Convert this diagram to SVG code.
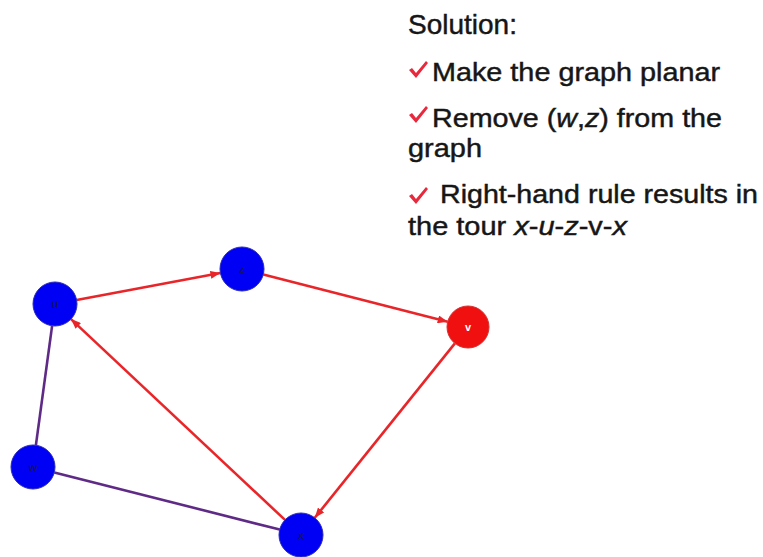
<svg xmlns="http://www.w3.org/2000/svg" width="763" height="557" viewBox="0 0 763 557">
  <style>
    .txt { font-family: "Liberation Sans", Arial, sans-serif; fill: #161616; stroke: #161616; stroke-width: 0.45; }
    .bullet { font-size: 26px; }
    .title { font-size: 28px; }
    .red { stroke: #e8262a; stroke-width: 2.6; fill: none; }
    .purple { stroke: #5e2a86; stroke-width: 2.6; fill: none; }
    .nblue { fill: #0000f4; stroke: #2a2ab8; stroke-width: 1; }
    .nred { fill: #f01010; stroke: #d83030; stroke-width: 1; }
    .lbl { font-family: "Liberation Sans", Arial, sans-serif; font-size: 11px; font-weight: bold; text-anchor: middle; }
    .lblb { fill: #12126e; }
    .lblw { fill: #ffffff; }
    .chk { fill: #e8283c; }
  </style>
  <defs>
    <marker id="arr" viewBox="0 0 10 8" refX="10" refY="4" markerWidth="10" markerHeight="8" markerUnits="userSpaceOnUse" orient="auto">
      <path d="M0,0 L10,4 L0,8 z" fill="#e8262a"/>
    </marker>
    <g id="check">
      <polygon points="0,9 3,7 7,12 17,0 19,2 7,17"/>
    </g>
  </defs>
  <rect width="763" height="557" fill="#ffffff"/>

  <g id="text">
    <text class="txt title" x="408" y="34">Solution:</text>
    <use href="#check" class="chk" x="409" y="61"/>
    <text class="txt bullet" x="432" y="81" textLength="288" lengthAdjust="spacingAndGlyphs">Make the graph planar</text>
    <use href="#check" class="chk" x="409" y="106"/>
    <text class="txt bullet" x="432" y="127" textLength="290" lengthAdjust="spacingAndGlyphs">Remove (<tspan font-style="italic">w</tspan>,<tspan font-style="italic">z</tspan>) from the</text>
    <text class="txt bullet" x="408" y="157" textLength="74" lengthAdjust="spacingAndGlyphs">graph</text>
    <use href="#check" class="chk" x="409" y="187"/>
    <text class="txt bullet" x="440" y="203" textLength="318" lengthAdjust="spacingAndGlyphs">Right-hand rule results in</text>
    <text class="txt bullet" x="408" y="235" textLength="219" lengthAdjust="spacingAndGlyphs">the tour <tspan font-style="italic">x</tspan>-<tspan font-style="italic">u</tspan>-<tspan font-style="italic">z</tspan>-v-<tspan font-style="italic">x</tspan></text>
  </g>

  <g id="connectors">
    <line class="red" x1="76.6" y1="300.0" x2="220.4" y2="273.0" marker-end="url(#arr)"/>
    <line class="red" x1="263.3" y1="274.5" x2="447.7" y2="321.8" marker-end="url(#arr)"/>
    <line class="red" x1="454.9" y1="343.4" x2="314.8" y2="517.8" marker-end="url(#arr)"/>
    <line class="red" x1="285.0" y1="519.9" x2="71.0" y2="319.1" marker-end="url(#arr)"/>
    <line class="purple" x1="52.1" y1="325.8" x2="35.9" y2="445.2"/>
    <line class="purple" x1="54.3" y1="472.4" x2="279.7" y2="529.6"/>
  </g>

  <g id="node-u">
    <circle class="nblue" cx="55" cy="304" r="22"/>
    <text class="lbl lblb" x="55" y="308">u</text>
  </g>
  <g id="node-z">
    <circle class="nblue" cx="242" cy="269" r="22"/>
    <text class="lbl lblb" x="242" y="273">z</text>
  </g>
  <g id="node-v">
    <circle class="nred" cx="468" cy="327" r="21"/>
    <text class="lbl lblw" x="468" y="331">v</text>
  </g>
  <g id="node-w">
    <circle class="nblue" cx="33" cy="467" r="22"/>
    <text class="lbl lblb" x="33" y="471">w</text>
  </g>
  <g id="node-x">
    <circle class="nblue" cx="301" cy="535" r="22"/>
    <text class="lbl lblb" x="301" y="539">x</text>
  </g>
</svg>
